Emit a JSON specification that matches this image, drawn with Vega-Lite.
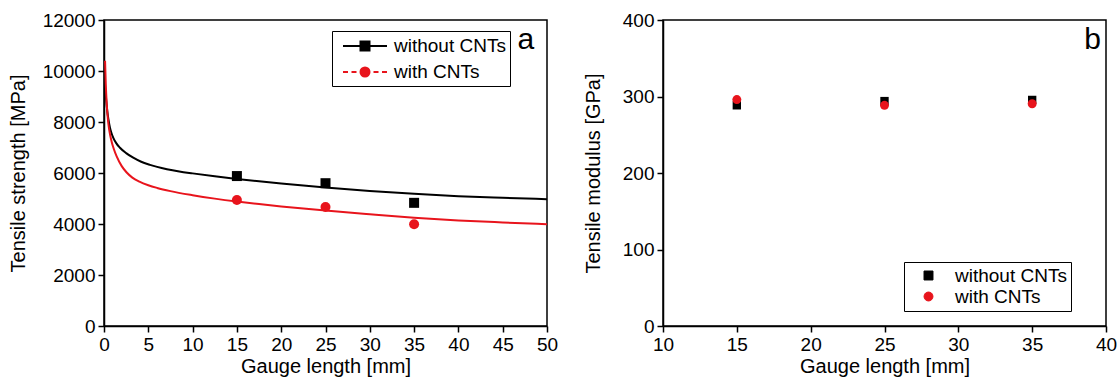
{
  "$schema": "https://vega.github.io/schema/vega-lite/v6.json",
  "padding": {"left": 7, "top": 10, "right": 5, "bottom": 5},
  "spacing": 23,
  "resolve": {"scale": {"color": "independent"}, "legend": {"color": "independent"}},
  "config": {
    "font": "Liberation Sans",
    "view": {"stroke": "black", "strokeWidth": 1.5},
    "axis": {
      "domainColor": "black", "domainWidth": 1.5,
      "tickColor": "black", "tickWidth": 1.5,
      "labelColor": "black", "titleColor": "black",
      "labelFont": "Liberation Sans", "titleFont": "Liberation Sans",
      "labelFontSize": 19, "titleFontSize": 20, "titleFontWeight": "normal",
      "grid": false, "labelPadding": 3, "labelOverlap": false, "labelFlush": false
    },
    "legend": {"labelFont": "Liberation Sans", "labelFontSize": 19, "labelColor": "black"}
  },
  "datasets": {
    "curves": [
      {"x": 0.15, "y": 9300, "series": "without CNTs"},
      {"x": 0.25, "y": 8850, "series": "without CNTs"},
      {"x": 0.37, "y": 8430, "series": "without CNTs"},
      {"x": 0.5, "y": 8100, "series": "without CNTs"},
      {"x": 0.68, "y": 7770, "series": "without CNTs"},
      {"x": 0.85, "y": 7560, "series": "without CNTs"},
      {"x": 1.05, "y": 7380, "series": "without CNTs"},
      {"x": 1.4, "y": 7160, "series": "without CNTs"},
      {"x": 1.8, "y": 6990, "series": "without CNTs"},
      {"x": 2.5, "y": 6780, "series": "without CNTs"},
      {"x": 3.3, "y": 6600, "series": "without CNTs"},
      {"x": 4.2, "y": 6440, "series": "without CNTs"},
      {"x": 5.2, "y": 6320, "series": "without CNTs"},
      {"x": 6, "y": 6240, "series": "without CNTs"},
      {"x": 7.1, "y": 6150, "series": "without CNTs"},
      {"x": 8.5, "y": 6060, "series": "without CNTs"},
      {"x": 10, "y": 5985, "series": "without CNTs"},
      {"x": 12.5, "y": 5870, "series": "without CNTs"},
      {"x": 15, "y": 5765, "series": "without CNTs"},
      {"x": 17.5, "y": 5672, "series": "without CNTs"},
      {"x": 20, "y": 5587, "series": "without CNTs"},
      {"x": 22.5, "y": 5507, "series": "without CNTs"},
      {"x": 25, "y": 5432, "series": "without CNTs"},
      {"x": 30, "y": 5297, "series": "without CNTs"},
      {"x": 35, "y": 5182, "series": "without CNTs"},
      {"x": 40, "y": 5092, "series": "without CNTs"},
      {"x": 45, "y": 5027, "series": "without CNTs"},
      {"x": 50, "y": 4972, "series": "without CNTs"},
      {"x": 0.12, "y": 10400, "series": "with CNTs"},
      {"x": 0.2, "y": 9500, "series": "with CNTs"},
      {"x": 0.3, "y": 8750, "series": "with CNTs"},
      {"x": 0.49, "y": 7950, "series": "with CNTs"},
      {"x": 0.7, "y": 7480, "series": "with CNTs"},
      {"x": 0.87, "y": 7220, "series": "with CNTs"},
      {"x": 1.1, "y": 6950, "series": "with CNTs"},
      {"x": 1.43, "y": 6650, "series": "with CNTs"},
      {"x": 2, "y": 6270, "series": "with CNTs"},
      {"x": 2.56, "y": 6020, "series": "with CNTs"},
      {"x": 3.2, "y": 5820, "series": "with CNTs"},
      {"x": 4, "y": 5660, "series": "with CNTs"},
      {"x": 5, "y": 5520, "series": "with CNTs"},
      {"x": 6, "y": 5415, "series": "with CNTs"},
      {"x": 7.5, "y": 5290, "series": "with CNTs"},
      {"x": 10, "y": 5130, "series": "with CNTs"},
      {"x": 12.5, "y": 4995, "series": "with CNTs"},
      {"x": 15, "y": 4880, "series": "with CNTs"},
      {"x": 17.5, "y": 4780, "series": "with CNTs"},
      {"x": 20, "y": 4690, "series": "with CNTs"},
      {"x": 22.5, "y": 4605, "series": "with CNTs"},
      {"x": 25, "y": 4525, "series": "with CNTs"},
      {"x": 30, "y": 4380, "series": "with CNTs"},
      {"x": 35, "y": 4245, "series": "with CNTs"},
      {"x": 40, "y": 4140, "series": "with CNTs"},
      {"x": 45, "y": 4060, "series": "with CNTs"},
      {"x": 50, "y": 3990, "series": "with CNTs"}
    ],
    "strength": [
      {"gauge": 15, "value": 5880, "series": "without CNTs"},
      {"gauge": 25, "value": 5600, "series": "without CNTs"},
      {"gauge": 35, "value": 4830, "series": "without CNTs"},
      {"gauge": 15, "value": 4940, "series": "with CNTs"},
      {"gauge": 25, "value": 4670, "series": "with CNTs"},
      {"gauge": 35, "value": 3990, "series": "with CNTs"}
    ],
    "modulus": [
      {"gauge": 15, "value": 288.5, "series": "without CNTs"},
      {"gauge": 25, "value": 294, "series": "without CNTs"},
      {"gauge": 35, "value": 295.5, "series": "without CNTs"},
      {"gauge": 15, "value": 296, "series": "with CNTs"},
      {"gauge": 25, "value": 288.5, "series": "with CNTs"},
      {"gauge": 35, "value": 290.5, "series": "with CNTs"}
    ],
    "labels": [{"panel": "a"}, {"panel": "b"}]
  },
  "hconcat": [
    {
      "width": 443,
      "height": 306,
      "layer": [
        {
          "data": {"name": "curves"},
          "mark": {"type": "line", "strokeWidth": 2, "clip": true, "interpolate": "monotone"},
          "encoding": {
            "x": {"field": "x", "type": "quantitative", "scale": {"domain": [0, 50], "nice": false},
              "axis": {"title": "Gauge length [mm]", "values": [0,2.5,5,7.5,10,12.5,15,17.5,20,22.5,25,27.5,30,32.5,35,37.5,40,42.5,45,47.5,50],
                "format": "d", "labelExpr": "datum.value % 5 === 0 ? datum.label : ''", "labelOverlap": false,
                "tickSize": {"condition": {"test": "datum.value % 5 !== 0", "value": 3}, "value": 6}, "titlePadding": 2}},
            "y": {"field": "y", "type": "quantitative", "scale": {"domain": [0, 12000], "nice": false},
              "axis": {"title": "Tensile strength [MPa]", "values": [0,1000,2000,3000,4000,5000,6000,7000,8000,9000,10000,11000,12000],
                "format": "d", "labelExpr": "datum.value % 2000 === 0 ? datum.label : ''", "labelOverlap": false,
                "tickSize": {"condition": {"test": "datum.value % 2000 !== 0", "value": 3}, "value": 6}, "titlePadding": 14}},
            "color": {"field": "series", "type": "nominal", "scale": {"domain": ["without CNTs", "with CNTs"], "range": ["#000000", "#e8141c"]},
              "legend": {"title": null, "orient": "none", "legendX": 228, "legendY": 11, "strokeColor": "black", "padding": 4,
                "symbolSize": 400, "symbolStrokeWidth": 2, "rowPadding": 5, "labelOffset": 18, "symbolOffset": 18,
                "encode": {"symbols": {"update": {
                  "shape": {"signal": "datum.value === 'with CNTs' ? 'M-2.2,0H-1.7M-1.35,0H-0.85M0.85,0H1.35M1.7,0H2.2M0.45,0A0.45,0.45,0,1,1,-0.45,0A0.45,0.45,0,1,1,0.45,0Z' : 'M-2.2,0H2.2M-0.45,-0.45H0.45V0.45H-0.45Z'"},
                  "fill": {"signal": "datum.value === 'with CNTs' ? '#e8141c' : '#000000'"},
                  "stroke": {"signal": "datum.value === 'with CNTs' ? '#e8141c' : '#000000'"},
                  "strokeWidth": {"value": 2},
                  "opacity": {"value": 1}}}}}}
          }
        },
        {
          "data": {"name": "strength"},
          "transform": [{"filter": "datum.series === 'without CNTs'"}],
          "mark": {"type": "point", "shape": "square", "filled": true, "opacity": 1, "size": 100},
          "encoding": {
            "x": {"field": "gauge", "type": "quantitative"},
            "y": {"field": "value", "type": "quantitative"},
            "color": {"field": "series", "type": "nominal",
              "legend": {"title": null, "orient": "none", "legendX": 228, "legendY": 11, "strokeColor": "black", "padding": 4,
                "symbolSize": 400, "symbolStrokeWidth": 2, "rowPadding": 5, "labelOffset": 18, "symbolOffset": 18,
                "encode": {"symbols": {"update": {
                  "shape": {"signal": "datum.value === 'with CNTs' ? 'M-2.2,0H-1.7M-1.35,0H-0.85M0.85,0H1.35M1.7,0H2.2M0.45,0A0.45,0.45,0,1,1,-0.45,0A0.45,0.45,0,1,1,0.45,0Z' : 'M-2.2,0H2.2M-0.45,-0.45H0.45V0.45H-0.45Z'"},
                  "fill": {"signal": "datum.value === 'with CNTs' ? '#e8141c' : '#000000'"},
                  "stroke": {"signal": "datum.value === 'with CNTs' ? '#e8141c' : '#000000'"},
                  "strokeWidth": {"value": 2},
                  "opacity": {"value": 1}}}}}}
          }
        },
        {
          "data": {"name": "strength"},
          "transform": [{"filter": "datum.series === 'with CNTs'"}],
          "mark": {"type": "point", "shape": "circle", "filled": true, "opacity": 1, "size": 100},
          "encoding": {
            "x": {"field": "gauge", "type": "quantitative"},
            "y": {"field": "value", "type": "quantitative"},
            "color": {"field": "series", "type": "nominal",
              "legend": {"title": null, "orient": "none", "legendX": 228, "legendY": 11, "strokeColor": "black", "padding": 4,
                "symbolSize": 400, "symbolStrokeWidth": 2, "rowPadding": 5, "labelOffset": 18, "symbolOffset": 18,
                "encode": {"symbols": {"update": {
                  "shape": {"signal": "datum.value === 'with CNTs' ? 'M-2.2,0H-1.7M-1.35,0H-0.85M0.85,0H1.35M1.7,0H2.2M0.45,0A0.45,0.45,0,1,1,-0.45,0A0.45,0.45,0,1,1,0.45,0Z' : 'M-2.2,0H2.2M-0.45,-0.45H0.45V0.45H-0.45Z'"},
                  "fill": {"signal": "datum.value === 'with CNTs' ? '#e8141c' : '#000000'"},
                  "stroke": {"signal": "datum.value === 'with CNTs' ? '#e8141c' : '#000000'"},
                  "strokeWidth": {"value": 2},
                  "opacity": {"value": 1}}}}}}
          }
        },
        {
          "data": {"name": "labels"},
          "transform": [{"filter": "datum.panel === 'a'"}],
          "mark": {"type": "text", "fontSize": 30, "align": "center", "baseline": "alphabetic", "color": "black", "font": "Liberation Sans"},
          "encoding": {"x": {"datum": 47.6}, "y": {"datum": 10850}, "text": {"field": "panel"}}
        }
      ]
    },
    {
      "width": 443,
      "height": 306,
      "layer": [
        {
          "data": {"name": "modulus"},
          "mark": {"type": "line", "opacity": 0, "strokeWidth": 0, "clip": true},
          "encoding": {
            "x": {"field": "gauge", "type": "quantitative", "scale": {"domain": [10, 40], "nice": false, "zero": false},
              "axis": {"title": "Gauge length [mm]", "values": [10,12.5,15,17.5,20,22.5,25,27.5,30,32.5,35,37.5,40],
                "format": "d", "labelExpr": "datum.value % 5 === 0 ? datum.label : ''", "labelOverlap": false,
                "tickSize": {"condition": {"test": "datum.value % 5 !== 0", "value": 3}, "value": 6}, "titlePadding": 2}},
            "y": {"field": "value", "type": "quantitative", "scale": {"domain": [0, 400], "nice": false},
              "axis": {"title": "Tensile modulus [GPa]", "values": [0,25,50,75,100,125,150,175,200,225,250,275,300,325,350,375,400],
                "format": "d", "labelExpr": "datum.value % 50 === 0 ? datum.label : ''", "labelOverlap": false,
                "tickSize": {"condition": {"test": "datum.value % 50 !== 0", "value": 3}, "value": 6}, "titlePadding": 19}},
            "color": {"field": "series", "type": "nominal", "scale": {"domain": ["without CNTs", "with CNTs"], "range": ["#000000", "#e8141c"]},
              "legend": {"title": null, "orient": "none", "legendX": 241, "legendY": 242, "strokeColor": "black", "padding": 4,
                "symbolSize": 80, "rowPadding": 1, "symbolOffset": 11, "labelOffset": 17,
                "encode": {"symbols": {"update": {
                  "shape": {"signal": "datum.value === 'with CNTs' ? 'circle' : 'square'"},
                  "fill": {"signal": "datum.value === 'with CNTs' ? '#e8141c' : '#000000'"},
                  "stroke": {"signal": "datum.value === 'with CNTs' ? '#e8141c' : '#000000'"},
                  "strokeWidth": {"value": 1},
                  "opacity": {"value": 1}}}}}}
          }
        },
        {
          "data": {"name": "modulus"},
          "transform": [{"filter": "datum.series === 'without CNTs'"}],
          "mark": {"type": "point", "shape": "square", "filled": true, "opacity": 1, "size": 70},
          "encoding": {
            "x": {"field": "gauge", "type": "quantitative"},
            "y": {"field": "value", "type": "quantitative"},
            "color": {"field": "series", "type": "nominal",
              "legend": {"title": null, "orient": "none", "legendX": 241, "legendY": 242, "strokeColor": "black", "padding": 4,
                "symbolSize": 80, "rowPadding": 1, "symbolOffset": 11, "labelOffset": 17,
                "encode": {"symbols": {"update": {
                  "shape": {"signal": "datum.value === 'with CNTs' ? 'circle' : 'square'"},
                  "fill": {"signal": "datum.value === 'with CNTs' ? '#e8141c' : '#000000'"},
                  "stroke": {"signal": "datum.value === 'with CNTs' ? '#e8141c' : '#000000'"},
                  "strokeWidth": {"value": 1},
                  "opacity": {"value": 1}}}}}}
          }
        },
        {
          "data": {"name": "modulus"},
          "transform": [{"filter": "datum.series === 'with CNTs'"}],
          "mark": {"type": "point", "shape": "circle", "filled": true, "opacity": 1, "size": 80},
          "encoding": {
            "x": {"field": "gauge", "type": "quantitative"},
            "y": {"field": "value", "type": "quantitative"},
            "color": {"field": "series", "type": "nominal",
              "legend": {"title": null, "orient": "none", "legendX": 241, "legendY": 242, "strokeColor": "black", "padding": 4,
                "symbolSize": 80, "rowPadding": 1, "symbolOffset": 11, "labelOffset": 17,
                "encode": {"symbols": {"update": {
                  "shape": {"signal": "datum.value === 'with CNTs' ? 'circle' : 'square'"},
                  "fill": {"signal": "datum.value === 'with CNTs' ? '#e8141c' : '#000000'"},
                  "stroke": {"signal": "datum.value === 'with CNTs' ? '#e8141c' : '#000000'"},
                  "strokeWidth": {"value": 1},
                  "opacity": {"value": 1}}}}}}
          }
        },
        {
          "data": {"name": "labels"},
          "transform": [{"filter": "datum.panel === 'b'"}],
          "mark": {"type": "text", "fontSize": 30, "align": "center", "baseline": "alphabetic", "color": "black", "font": "Liberation Sans"},
          "encoding": {"x": {"datum": 39.1}, "y": {"datum": 362}, "text": {"field": "panel"}}
        }
      ]
    }
  ]
}
